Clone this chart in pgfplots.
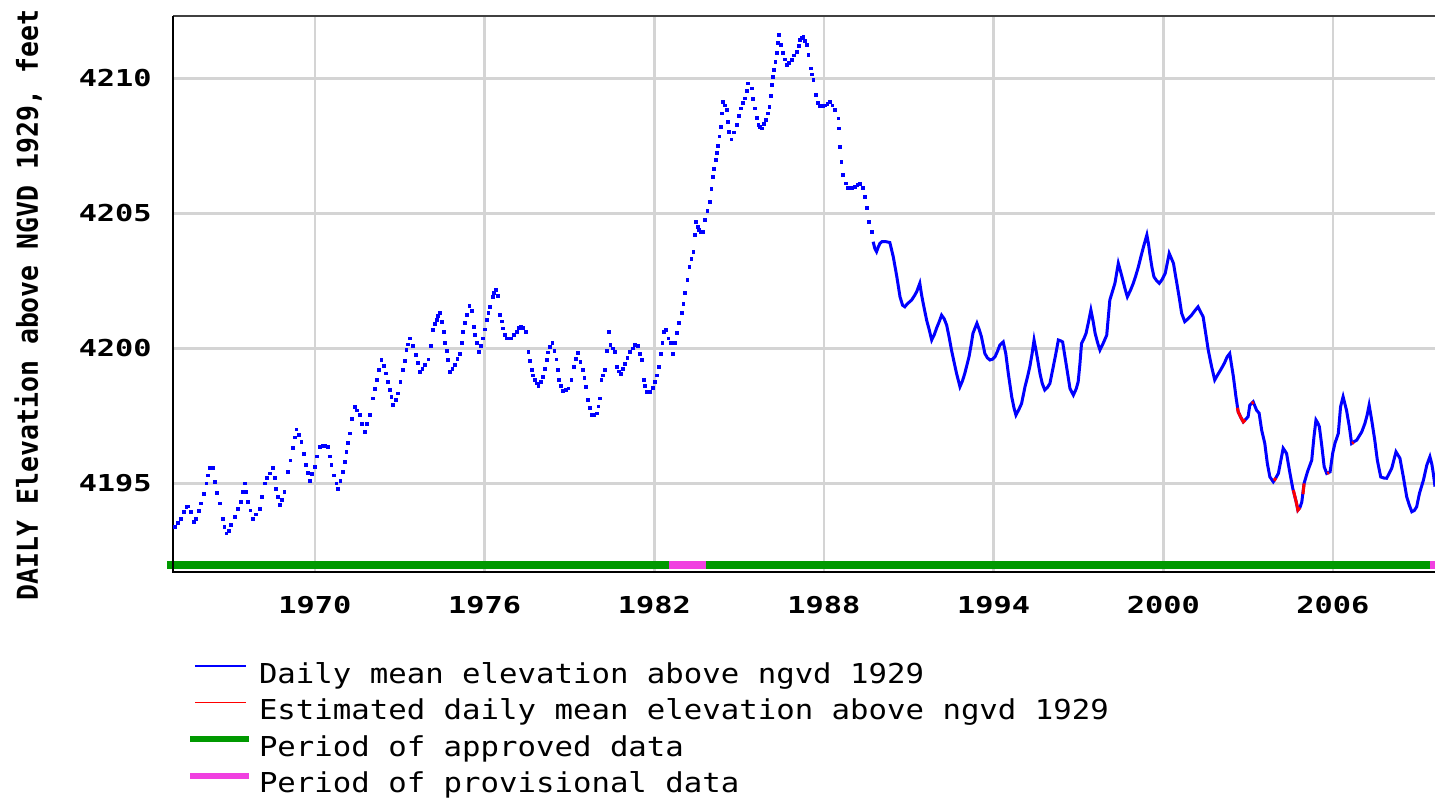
\documentclass[border=0pt]{standalone}
\usepackage{fontspec}
\usepackage{pgfplots}
\pgfplotsset{compat=1.18}
\newfontfamily\tickfont{DejaVu Sans Mono}[FakeStretch=1.3]
\newfontfamily\labelfont{DejaVu Sans Mono}[FakeStretch=0.92]
\newfontfamily\legendfont{DejaVu Sans Mono}[FakeStretch=1.12]
\definecolor{gridgray}{RGB}{212,212,212}
\definecolor{usgsgreen}{RGB}{0,153,0}
\definecolor{usgspink}{RGB}{240,64,224}

\begin{document}
\begin{tikzpicture}
\useasboundingbox (0,0) rectangle (717.5pt,399.5pt);
\begin{axis}[
    at={(86.65pt,113.65pt)}, anchor=south west,
    scale only axis, width=630.85pt, height=278pt,
    xmin=1964.99, xmax=2009.61, ymin=4191.73, ymax=4212.32,
    clip=false,
    xtick={1970,1976,1982,1988,1994,2000,2006},
    xticklabels={1970,1976,1982,1988,1994,2000,2006},
    ytick={4195,4200,4205,4210},
    yticklabels={4195,4200,4205,4210},
    major tick length=0pt, tick style={draw=none},
    axis line style={draw=none},
    grid=major, grid style={draw=gridgray, line width=1.3pt},
    xticklabel style={font=\tickfont\bfseries\fontsize{11.65}{12}\selectfont, anchor=north, inner sep=0pt, yshift=-12pt},
    yticklabel style={font=\tickfont\bfseries\fontsize{11.65}{12}\selectfont, anchor=east, inner sep=0pt, xshift=-10.6pt},
    unbounded coords=jump,
    legend cell align=left,
    legend style={draw=none, fill=none, at={(0.01086,-0.1642)}, anchor=north west,
      font=\legendfont\fontsize{13.7}{16}\selectfont, inner sep=0pt, outer sep=0pt,
      row sep=5.3pt, nodes={inner sep=0pt, text height=10pt, text depth=3pt},
      /tikz/every odd column/.style={column sep=3.5pt}},
  ]
  % period bars
  \addplot[forget plot, usgsgreen, line width=4.15pt] coordinates {(1964.77,4191.97) (1982.52,4191.97)};
  \addplot[forget plot, usgspink, line width=4.15pt] coordinates {(1982.52,4191.97) (1983.83,4191.97)};
  \addplot[forget plot, usgsgreen, line width=4.15pt] coordinates {(1983.83,4191.97) (2009.43,4191.97)};
  \addplot[forget plot, usgspink, line width=4.15pt] coordinates {(2009.43,4191.97) (2009.61,4191.97)};

  % sparse daily values (dots)
  \addplot[forget plot, blue, only marks, mark=square*, mark size=0.7pt, mark options={draw=none, fill=blue}] coordinates {
    (1965.04,4193.39) (1965.15,4193.55) (1965.27,4193.70) (1965.36,4193.95) (1965.45,4194.13)
    (1965.52,4194.15) (1965.60,4193.95) (1965.71,4193.58) (1965.80,4193.70) (1965.89,4193.98)
    (1965.98,4194.26) (1966.07,4194.60) (1966.16,4195.00) (1966.22,4195.30) (1966.27,4195.58)
    (1966.33,4195.58) (1966.39,4195.58) (1966.45,4195.06) (1966.54,4194.65) (1966.63,4194.26)
    (1966.73,4193.70) (1966.80,4193.40) (1966.87,4193.15) (1966.95,4193.25) (1967.04,4193.46)
    (1967.16,4193.75) (1967.28,4194.07) (1967.39,4194.32) (1967.45,4194.70) (1967.51,4195.00)
    (1967.57,4194.70) (1967.63,4194.32) (1967.72,4194.00) (1967.81,4193.70) (1967.92,4193.85)
    (1968.04,4194.07) (1968.13,4194.50) (1968.22,4195.00) (1968.31,4195.20) (1968.40,4195.37)
    (1968.51,4195.56) (1968.57,4195.20) (1968.63,4194.81) (1968.69,4194.50) (1968.75,4194.20)
    (1968.83,4194.40) (1968.92,4194.69) (1969.05,4195.43) (1969.13,4195.85) (1969.22,4196.30)
    (1969.28,4196.70) (1969.34,4197.00) (1969.43,4196.80) (1969.52,4196.54) (1969.60,4196.10)
    (1969.69,4195.68) (1969.75,4195.40) (1969.81,4195.10) (1969.90,4195.35) (1969.99,4195.62)
    (1970.08,4196.00) (1970.17,4196.36) (1970.27,4196.40) (1970.36,4196.40) (1970.46,4196.36)
    (1970.52,4196.00) (1970.58,4195.68) (1970.67,4195.30) (1970.76,4195.00) (1970.81,4194.81)
    (1970.90,4195.10) (1970.99,4195.43) (1971.05,4195.80) (1971.11,4196.17) (1971.17,4196.50)
    (1971.23,4196.85) (1971.32,4197.40) (1971.40,4197.84) (1971.49,4197.70) (1971.58,4197.53)
    (1971.67,4197.20) (1971.76,4196.91) (1971.84,4197.20) (1971.93,4197.53) (1972.05,4198.15)
    (1972.12,4198.50) (1972.19,4198.83) (1972.27,4199.20) (1972.35,4199.57) (1972.43,4199.35)
    (1972.52,4199.07) (1972.58,4198.75) (1972.64,4198.46) (1972.70,4198.20) (1972.76,4197.90)
    (1972.85,4198.10) (1972.93,4198.33) (1973.02,4198.75) (1973.11,4199.20) (1973.17,4199.55)
    (1973.23,4199.94) (1973.30,4200.15) (1973.37,4200.37) (1973.46,4200.10) (1973.56,4199.75)
    (1973.63,4199.45) (1973.70,4199.13) (1973.80,4199.25) (1973.90,4199.40) (1974.01,4199.59)
    (1974.10,4200.10) (1974.18,4200.68) (1974.24,4200.90) (1974.30,4201.05) (1974.36,4201.20)
    (1974.42,4201.30) (1974.50,4200.99) (1974.55,4200.60) (1974.60,4200.19) (1974.66,4199.90)
    (1974.71,4199.57) (1974.77,4199.13) (1974.86,4199.25) (1974.95,4199.38) (1975.04,4199.60)
    (1975.13,4199.81) (1975.19,4200.20) (1975.24,4200.61) (1975.30,4200.95) (1975.36,4201.23)
    (1975.46,4201.57) (1975.54,4201.38) (1975.62,4200.80) (1975.67,4200.50) (1975.72,4200.19)
    (1975.81,4199.87) (1975.88,4200.10) (1975.95,4200.37) (1976.01,4200.70) (1976.07,4201.05)
    (1976.13,4201.30) (1976.19,4201.54) (1976.28,4201.91) (1976.34,4202.05) (1976.40,4202.16)
    (1976.48,4201.94) (1976.54,4201.23) (1976.60,4201.00) (1976.66,4200.74) (1976.73,4200.50)
    (1976.80,4200.37) (1976.88,4200.37) (1976.95,4200.37) (1977.04,4200.50) (1977.13,4200.61)
    (1977.20,4200.75) (1977.27,4200.80) (1977.36,4200.75) (1977.46,4200.61) (1977.55,4199.87)
    (1977.60,4199.55) (1977.66,4199.20) (1977.72,4199.00) (1977.78,4198.83) (1977.84,4198.70)
    (1977.90,4198.60) (1977.98,4198.75) (1978.07,4198.95) (1978.13,4199.25) (1978.19,4199.57)
    (1978.25,4199.85) (1978.31,4200.06) (1978.40,4200.21) (1978.47,4199.90) (1978.54,4199.59)
    (1978.59,4199.20) (1978.64,4198.83) (1978.71,4198.60) (1978.78,4198.43) (1978.87,4198.45)
    (1978.96,4198.52) (1979.07,4198.83) (1979.16,4199.32) (1979.23,4199.60) (1979.31,4199.84)
    (1979.39,4199.50) (1979.47,4199.20) (1979.53,4198.90) (1979.58,4198.58) (1979.66,4198.09)
    (1979.72,4197.80) (1979.78,4197.53) (1979.87,4197.55) (1979.96,4197.59) (1980.02,4197.85)
    (1980.08,4198.15) (1980.13,4198.83) (1980.19,4199.00) (1980.25,4199.20) (1980.33,4199.90)
    (1980.40,4200.61) (1980.45,4200.12) (1980.53,4200.00) (1980.61,4199.87) (1980.67,4199.32)
    (1980.75,4199.15) (1980.82,4199.05) (1980.89,4199.25) (1980.96,4199.44) (1981.05,4199.65)
    (1981.14,4199.87) (1981.23,4200.00) (1981.32,4200.12) (1981.43,4200.09) (1981.49,4199.80)
    (1981.55,4199.57) (1981.63,4198.83) (1981.68,4198.60) (1981.73,4198.39) (1981.79,4198.39)
    (1981.85,4198.39) (1981.94,4198.55) (1982.02,4198.76) (1982.10,4199.00) (1982.17,4199.32)
    (1982.23,4199.80) (1982.29,4200.19) (1982.35,4200.60) (1982.41,4200.68) (1982.50,4200.37)
    (1982.58,4200.20) (1982.67,4199.81) (1982.73,4200.20) (1982.79,4200.56) (1982.88,4200.95)
    (1982.97,4201.30) (1983.03,4201.65) (1983.09,4202.04) (1983.17,4202.55) (1983.24,4203.02)
    (1983.31,4203.30) (1983.38,4203.58) (1983.43,4204.20) (1983.47,4204.69) (1983.53,4204.50)
    (1983.59,4204.38) (1983.65,4204.32) (1983.71,4204.32) (1983.79,4204.75) (1983.88,4205.10)
    (1983.97,4205.43) (1984.02,4205.90) (1984.06,4206.36) (1984.12,4206.65) (1984.18,4206.97)
    (1984.22,4207.25) (1984.26,4207.49) (1984.30,4207.85) (1984.35,4208.21) (1984.40,4208.70)
    (1984.44,4209.13) (1984.50,4209.00) (1984.56,4208.83) (1984.60,4208.40) (1984.64,4208.02)
    (1984.73,4207.74) (1984.82,4208.00) (1984.91,4208.27) (1984.98,4208.60) (1985.05,4208.89)
    (1985.13,4209.08) (1985.21,4209.26) (1985.27,4209.55) (1985.32,4209.81) (1985.44,4209.63)
    (1985.50,4209.25) (1985.56,4208.89) (1985.62,4208.55) (1985.68,4208.27) (1985.74,4208.20)
    (1985.80,4208.15) (1985.88,4208.30) (1985.95,4208.46) (1986.01,4208.70) (1986.07,4208.95)
    (1986.11,4209.35) (1986.15,4209.75) (1986.19,4210.05) (1986.23,4210.31) (1986.28,4210.60)
    (1986.33,4210.93) (1986.38,4211.30) (1986.42,4211.60) (1986.48,4211.25) (1986.54,4210.93)
    (1986.61,4210.70) (1986.68,4210.49) (1986.77,4210.58) (1986.86,4210.68) (1986.95,4210.85)
    (1987.04,4210.99) (1987.10,4211.20) (1987.15,4211.42) (1987.21,4211.50) (1987.27,4211.54)
    (1987.33,4211.40) (1987.39,4211.23) (1987.45,4210.86) (1987.53,4210.37) (1987.58,4210.15)
    (1987.63,4209.94) (1987.72,4209.38) (1987.79,4209.10) (1987.86,4208.97) (1987.95,4208.97)
    (1988.04,4209.00) (1988.12,4209.05) (1988.21,4209.13) (1988.30,4209.00) (1988.39,4208.83)
    (1988.51,4208.52) (1988.54,4208.15) (1988.57,4207.47) (1988.62,4206.91) (1988.68,4206.42)
    (1988.77,4206.11) (1988.85,4205.95) (1988.92,4205.93) (1989.00,4205.93) (1989.10,4205.98)
    (1989.18,4206.05) (1989.27,4206.09) (1989.38,4205.93) (1989.45,4205.61) (1989.51,4205.19)
    (1989.60,4204.69) (1989.69,4204.32)
  };

  % continuous daily values
  \addplot[forget plot, blue, line width=1.5pt] coordinates {
    (1989.74,4203.95) (1989.80,4203.70) (1989.86,4203.58) (1989.92,4203.75) (1989.98,4203.89)
    (1990.05,4203.95) (1990.20,4203.95) (1990.33,4203.92) (1990.45,4203.40) (1990.57,4202.70)
    (1990.69,4201.91) (1990.78,4201.60) (1990.86,4201.54) (1990.95,4201.65) (1991.10,4201.79)
    (1991.20,4201.95) (1991.28,4202.10) (1991.39,4202.41) (1991.45,4202.00) (1991.51,4201.67)
    (1991.63,4201.05) (1991.72,4200.70) (1991.81,4200.31) (1991.90,4200.50) (1991.98,4200.74)
    (1992.08,4201.00) (1992.16,4201.23) (1992.25,4201.10) (1992.34,4200.86) (1992.43,4200.40)
    (1992.51,4199.94) (1992.60,4199.50) (1992.69,4199.07) (1992.81,4198.58) (1992.90,4198.80)
    (1992.98,4199.07) (1993.06,4199.40) (1993.13,4199.69) (1993.20,4200.10) (1993.27,4200.56)
    (1993.41,4200.93) (1993.49,4200.70) (1993.57,4200.43) (1993.69,4199.81) (1993.78,4199.65)
    (1993.87,4199.57) (1993.96,4199.60) (1994.05,4199.69) (1994.14,4199.90) (1994.22,4200.12)
    (1994.34,4200.24) (1994.43,4199.81) (1994.52,4199.07) (1994.64,4198.21) (1994.72,4197.80)
    (1994.79,4197.53) (1994.90,4197.75) (1994.99,4197.96) (1995.11,4198.58) (1995.20,4198.95)
    (1995.28,4199.32) (1995.36,4199.80) (1995.43,4200.31) (1995.52,4199.81) (1995.64,4199.07)
    (1995.72,4198.70) (1995.81,4198.46) (1995.90,4198.55) (1995.99,4198.70) (1996.11,4199.32)
    (1996.20,4199.80) (1996.29,4200.31) (1996.37,4200.28) (1996.44,4200.24) (1996.58,4199.32)
    (1996.70,4198.52) (1996.82,4198.27) (1996.92,4198.50) (1996.99,4198.76) (1997.05,4199.40)
    (1997.11,4200.19) (1997.19,4200.35) (1997.27,4200.56) (1997.35,4200.95) (1997.44,4201.42)
    (1997.52,4201.00) (1997.59,4200.56) (1997.68,4200.20) (1997.76,4199.94) (1997.88,4200.20)
    (1998.00,4200.49) (1998.11,4201.79) (1998.20,4202.10) (1998.29,4202.41) (1998.41,4203.15)
    (1998.49,4202.85) (1998.57,4202.53) (1998.65,4202.20) (1998.73,4201.91) (1998.84,4202.15)
    (1998.94,4202.41) (1999.03,4202.70) (1999.12,4203.02) (1999.21,4203.40) (1999.30,4203.76)
    (1999.42,4204.20) (1999.48,4203.85) (1999.53,4203.46) (1999.60,4203.00) (1999.67,4202.65)
    (1999.77,4202.50) (1999.86,4202.41) (1999.96,4202.55) (2000.07,4202.78) (2000.14,4203.15)
    (2000.21,4203.52) (2000.28,4203.35) (2000.36,4203.15) (2000.46,4202.53) (2000.56,4201.91)
    (2000.65,4201.30) (2000.76,4200.99) (2000.88,4201.10) (2001.00,4201.23) (2001.12,4201.40)
    (2001.23,4201.54) (2001.32,4201.35) (2001.41,4201.17) (2001.50,4200.56) (2001.59,4199.94)
    (2001.71,4199.32) (2001.82,4198.83) (2001.94,4199.05) (2002.06,4199.26) (2002.16,4199.45)
    (2002.26,4199.69) (2002.35,4199.81) (2002.48,4198.95) (2002.57,4198.21) (2002.65,4197.65)
    (2002.74,4197.45) (2002.83,4197.28) (2002.92,4197.38) (2003.00,4197.47) (2003.06,4197.90)
    (2003.18,4198.02) (2003.30,4197.71) (2003.39,4197.60) (2003.48,4196.97) (2003.59,4196.48)
    (2003.68,4195.74) (2003.77,4195.24) (2003.89,4195.06) (2003.98,4195.20) (2004.07,4195.37)
    (2004.16,4195.86) (2004.24,4196.30) (2004.36,4196.11) (2004.46,4195.49) (2004.58,4194.81)
    (2004.70,4194.32) (2004.76,4194.01) (2004.83,4194.10) (2004.90,4194.32) (2004.98,4195.00)
    (2005.10,4195.43) (2005.25,4195.86) (2005.33,4196.73) (2005.40,4197.35) (2005.46,4197.25)
    (2005.52,4197.10) (2005.61,4196.36) (2005.69,4195.62) (2005.78,4195.37) (2005.90,4195.43)
    (2005.99,4196.11) (2006.07,4196.48) (2006.19,4196.85) (2006.27,4197.84) (2006.36,4198.21)
    (2006.48,4197.71) (2006.58,4197.10) (2006.66,4196.48) (2006.75,4196.55) (2006.84,4196.60)
    (2007.02,4196.91) (2007.13,4197.22) (2007.21,4197.53) (2007.28,4197.90) (2007.37,4197.35)
    (2007.48,4196.60) (2007.57,4195.86) (2007.69,4195.24) (2007.80,4195.20) (2007.90,4195.19)
    (2008.08,4195.56) (2008.23,4196.17) (2008.30,4196.05) (2008.37,4195.93) (2008.49,4195.24)
    (2008.61,4194.50) (2008.70,4194.20) (2008.79,4193.95) (2008.88,4194.00) (2008.96,4194.13)
    (2009.06,4194.63) (2009.20,4195.12) (2009.32,4195.68) (2009.43,4195.99) (2009.50,4195.70)
    (2009.55,4195.37) (2009.61,4194.88)
  };

  % estimated values
  \addplot[forget plot, red, line width=1.5pt] coordinates {
    (2002.62,4197.80) (2002.65,4197.65) (2002.74,4197.45) (2002.83,4197.28) (2002.90,4197.35)
    (2002.95,nan)
    (2003.12,4197.97) (2003.20,4198.00)
    (2003.50,nan)
    (2003.92,4195.10) (2003.98,4195.20)
    (2004.30,nan)
    (2004.60,4194.75) (2004.70,4194.32) (2004.76,4194.01) (2004.83,4194.10)
    (2004.88,nan)
    (2004.94,4194.60) (2004.98,4195.00)
    (2005.50,nan)
    (2005.80,4195.37) (2005.86,4195.40)
    (2006.40,nan)
    (2006.68,4196.48) (2006.73,4196.52)
  };

  % frame: top, left, bottom
  \draw[black!75, line width=1pt] (rel axis cs:0,1) -- (rel axis cs:1,1);
  \draw[black, line width=1pt] (rel axis cs:0,1) -- (rel axis cs:0,0) -- (rel axis cs:1,0);

  \addlegendimage{legend image code/.code={\path[draw=none] (0pt,0pt) -- (29.5pt,0pt); \draw[blue, line width=0.6pt] (2.5pt,5pt) -- (28pt,5pt);}}
  \addlegendentry{Daily mean elevation above ngvd 1929}
  \addlegendimage{legend image code/.code={\path[draw=none] (0pt,0pt) -- (29.5pt,0pt); \draw[red, line width=0.6pt] (2.5pt,5pt) -- (28pt,5pt);}}
  \addlegendentry{Estimated daily mean elevation above ngvd 1929}
  \addlegendimage{legend image code/.code={\path[draw=none] (0pt,0pt) -- (29.5pt,0pt); \draw[usgsgreen, line width=3pt] (0pt,5pt) -- (29.5pt,5pt);}}
  \addlegendentry{Period of approved data}
  \addlegendimage{legend image code/.code={\path[draw=none] (0pt,0pt) -- (29.5pt,0pt); \draw[usgspink, line width=3pt] (0pt,5pt) -- (29.5pt,5pt);}}
  \addlegendentry{Period of provisional data}
\end{axis}
\node[rotate=90, anchor=base, inner sep=0pt, font=\labelfont\bfseries\fontsize{14.4}{16}\selectfont]
  at (19pt,247pt) {DAILY Elevation above NGVD 1929, feet};
\end{tikzpicture}
\end{document}
